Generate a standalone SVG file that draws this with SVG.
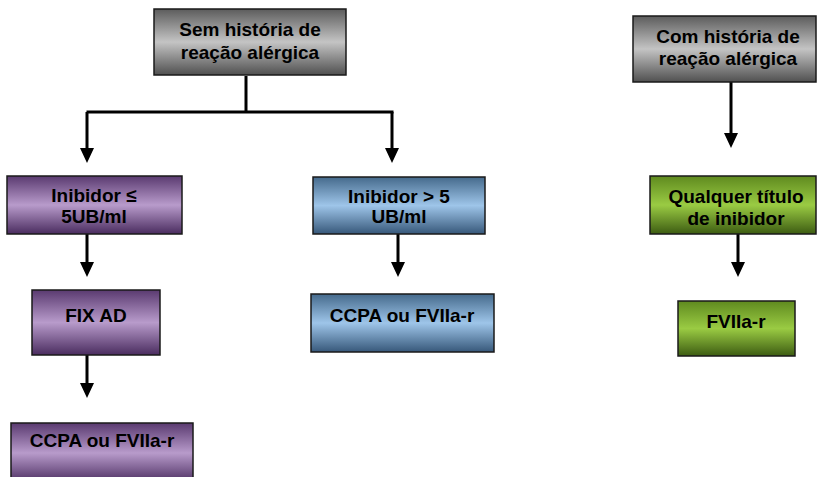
<svg xmlns="http://www.w3.org/2000/svg" width="817" height="477" viewBox="0 0 817 477">
<defs>
<linearGradient id="gGray" x1="0" y1="0" x2="0" y2="1">
<stop offset="0" stop-color="#5c5c5c"/><stop offset="0.5" stop-color="#c4c4c4"/><stop offset="1" stop-color="#505050"/>
</linearGradient>
<linearGradient id="gPurple" x1="0" y1="0" x2="0" y2="1">
<stop offset="0" stop-color="#5a3a70"/><stop offset="0.5" stop-color="#b89bcb"/><stop offset="1" stop-color="#4a2c5f"/>
</linearGradient>
<linearGradient id="gBlue" x1="0" y1="0" x2="0" y2="1">
<stop offset="0" stop-color="#456a8c"/><stop offset="0.5" stop-color="#9ec5e9"/><stop offset="1" stop-color="#37587a"/>
</linearGradient>
<linearGradient id="gGreen" x1="0" y1="0" x2="0" y2="1">
<stop offset="0" stop-color="#5f8a1f"/><stop offset="0.5" stop-color="#9acb43"/><stop offset="1" stop-color="#3d5c12"/>
</linearGradient>
</defs>
<style>
.box{stroke:#1a1a1a;stroke-width:1.5}
.t{font-family:"Liberation Sans",Arial,sans-serif;font-weight:bold;font-size:19px;fill:#000;text-anchor:middle}
.c{stroke:#000;stroke-width:3;fill:none}
.ah{fill:#000}
</style>
<g id="connectors">
<path class="c" d="M246,76 V112"/>
<path class="c" d="M86.5,112 H393.5"/>
<path class="c" d="M87,112 V150 M392,112 V150"/>
<path class="ah" d="M80,148 H94 L87,163 Z M385,148 H399 L392,163 Z"/>
<path class="c" d="M87,234 V264 M398,234 V264 M87,355 V385 M731,82 V135 M738,234 V264"/>
<path class="ah" d="M80,262 H94 L87,277 Z M391,262 H405 L398,277 Z M80,383 H94 L87,398 Z M724,133 H738 L731,148 Z M731,262 H745 L738,277 Z"/>
</g>
<g id="sem">
<rect class="box" x="154" y="9" width="192" height="66" fill="url(#gGray)"/>
<text class="t" x="250" y="36">Sem história de</text>
<text class="t" x="250" y="59">reação alérgica</text>
</g>
<g id="com">
<rect class="box" x="633" y="16" width="183" height="66" fill="url(#gGray)"/>
<text class="t" x="728" y="43">Com história de</text>
<text class="t" x="728" y="65">reação alérgica</text>
</g>
<g id="inib-low">
<rect class="box" x="7" y="176" width="175" height="58" fill="url(#gPurple)"/>
<text class="t" x="94" y="202">Inibidor ≤</text>
<text class="t" x="94" y="223">5UB/ml</text>
</g>
<g id="fixad">
<rect class="box" x="32" y="290" width="128" height="65" fill="url(#gPurple)"/>
<text class="t" x="96" y="322">FIX AD</text>
</g>
<g id="ccpa-purple">
<rect class="box" x="11" y="423" width="182" height="60" fill="url(#gPurple)"/>
<text class="t" x="102" y="447">CCPA ou FVIIa-r</text>
</g>
<g id="inib-high">
<rect class="box" x="313" y="177" width="172" height="57" fill="url(#gBlue)"/>
<text class="t" x="399" y="203">Inibidor &gt; 5</text>
<text class="t" x="399" y="223">UB/ml</text>
</g>
<g id="ccpa-blue">
<rect class="box" x="311" y="294" width="183" height="58" fill="url(#gBlue)"/>
<text class="t" x="402" y="322">CCPA ou FVIIa-r</text>
</g>
<g id="qualquer">
<rect class="box" x="650" y="176" width="166" height="58" fill="url(#gGreen)"/>
<text class="t" x="736" y="203">Qualquer título</text>
<text class="t" x="736" y="225">de inibidor</text>
</g>
<g id="fviia">
<rect class="box" x="678" y="301" width="117" height="55" fill="url(#gGreen)"/>
<text class="t" x="736" y="328">FVIIa-r</text>
</g>
</svg>
